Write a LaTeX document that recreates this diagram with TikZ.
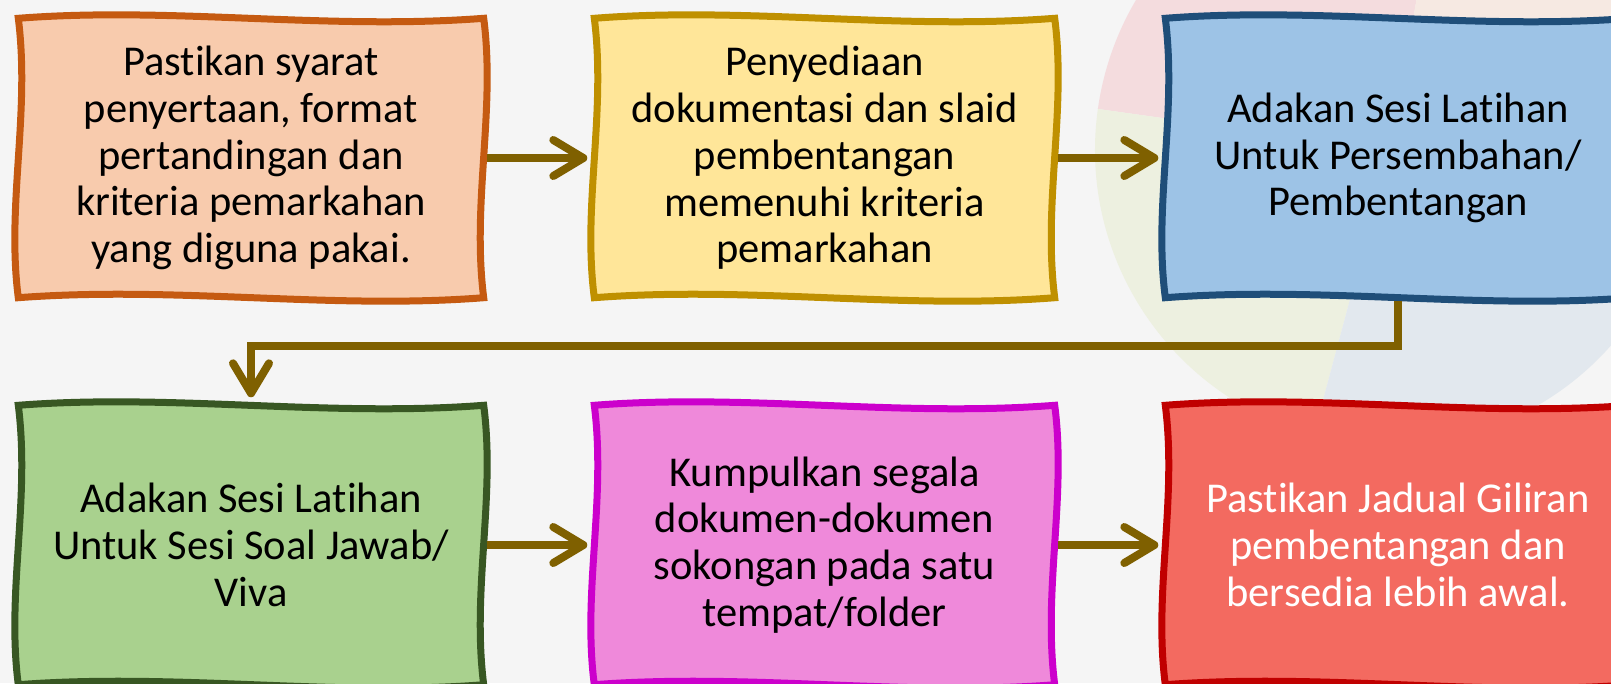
\documentclass[tikz,border=0pt]{standalone}
\usepackage{fontspec}
\setmainfont{Carlito}[Ligatures={NoCommon}]
\usetikzlibrary{arrows.meta,calc}
\pgfdeclarelayer{wm}
\pgfdeclarelayer{bg}
\pgfsetlayers{wm,bg,main}
\definecolor{bgc}{HTML}{F5F5F5}
\definecolor{arrc}{HTML}{7F6000}
\definecolor{d1}{HTML}{C55A11}\definecolor{f1}{HTML}{F8CBAD}
\definecolor{d2}{HTML}{BF9000}\definecolor{f2}{HTML}{FFE699}
\definecolor{d3}{HTML}{1F4E79}\definecolor{f3}{HTML}{9DC3E6}
\definecolor{d4}{HTML}{385723}\definecolor{f4}{HTML}{A9D18E}
\definecolor{d5}{HTML}{CC00CC}\definecolor{f5}{HTML}{EF89DA}
\definecolor{d6}{HTML}{C00000}\definecolor{f6}{HTML}{F36A60}
\definecolor{wpink}{HTML}{F4DCDE}
\definecolor{wpeach}{HTML}{F6E9E2}
\definecolor{wgreen}{HTML}{EDF0E0}
\definecolor{wblue}{HTML}{E2E8EE}
\newcommand{\sketchbox}[3]{%
\begin{pgfonlayer}{bg}
\path[draw=#2,fill=#3,line width=7pt,line join=miter]
 (#1.north west)
 .. controls ($(#1.north west)!.33!(#1.north east)+(0,-12)$) and ($(#1.north west)!.66!(#1.north east)+(0,12)$) .. (#1.north east)
 .. controls ($(#1.north east)!.33!(#1.south east)+(12,0)$) and ($(#1.north east)!.66!(#1.south east)+(-12,0)$) .. (#1.south east)
 .. controls ($(#1.south east)!.33!(#1.south west)+(0,12)$) and ($(#1.south east)!.66!(#1.south west)+(0,-12)$) .. (#1.south west)
 .. controls ($(#1.south west)!.33!(#1.north west)+(-12,0)$) and ($(#1.south west)!.66!(#1.north west)+(12,0)$) .. cycle;
\end{pgfonlayer}}
\begin{document}
\begin{tikzpicture}[x=1pt,y=-1pt,
  box/.style={minimum width=465pt,minimum height=279pt,inner sep=0pt,align=center,
    font=\fontsize{42.5}{46.8}\selectfont},
  conn/.style={draw=arrc,line width=8pt,
    -{Straight Barb[length=30pt,width=36pt,round]},shorten <=3pt,shorten >=7pt}]
\useasboundingbox (0,0) rectangle (1611,683);
\begin{pgfonlayer}{wm}
\fill[bgc] (0,0) rectangle (1611,683);
\coordinate (wc) at (1390,150);
\fill[wpink] (wc) -- +(188:295) arc[start angle=188,end angle=280,radius=295] -- cycle;
\fill[wpeach] (wc) -- +(280:295) arc[start angle=280,end angle=360,radius=295] -- cycle;
\fill[wgreen] (wc) -- +(105:295) arc[start angle=105,end angle=188,radius=295] -- cycle;
\fill[wblue] (wc) -- +(0:295) arc[start angle=0,end angle=105,radius=295] -- cycle;
\end{pgfonlayer}

\node[box] (b1) at (251,158) {Pastikan syarat\\penyertaan, format\\pertandingan dan\\kriteria pemarkahan\\yang diguna pakai.};
\node[box,minimum width=460pt] (b2) at (824.5,158) {Penyediaan\\dokumentasi dan slaid\\pembentangan\\memenuhi kriteria\\pemarkahan};
\node[box] (b3) at (1398,158) {Adakan Sesi Latihan\\Untuk Persembahan/\\Pembentangan};
\node[box] (b4) at (251,545) {Adakan Sesi Latihan\\Untuk Sesi Soal Jawab/\\Viva};
\node[box,minimum width=460pt] (b5) at (824.5,545) {Kumpulkan segala\\dokumen-dokumen\\sokongan pada satu\\tempat/folder};
\node[box,text=white] (b6) at (1398,545) {Pastikan Jadual Giliran\\pembentangan dan\\bersedia lebih awal.};

\sketchbox{b1}{d1}{f1}
\sketchbox{b2}{d2}{f2}
\sketchbox{b3}{d3}{f3}
\sketchbox{b4}{d4}{f4}
\sketchbox{b5}{d5}{f5}
\sketchbox{b6}{d6}{f6}

\draw[conn] (b1.east) -- (b2.west);
\draw[conn] (b2.east) -- (b3.west);
\draw[conn,shorten >=8pt] (b3.south) -- ++(0,48) -| (b4.north);
\draw[conn] (b4.east) -- (b5.west);
\draw[conn] (b5.east) -- (b6.west);
\end{tikzpicture}
\end{document}
